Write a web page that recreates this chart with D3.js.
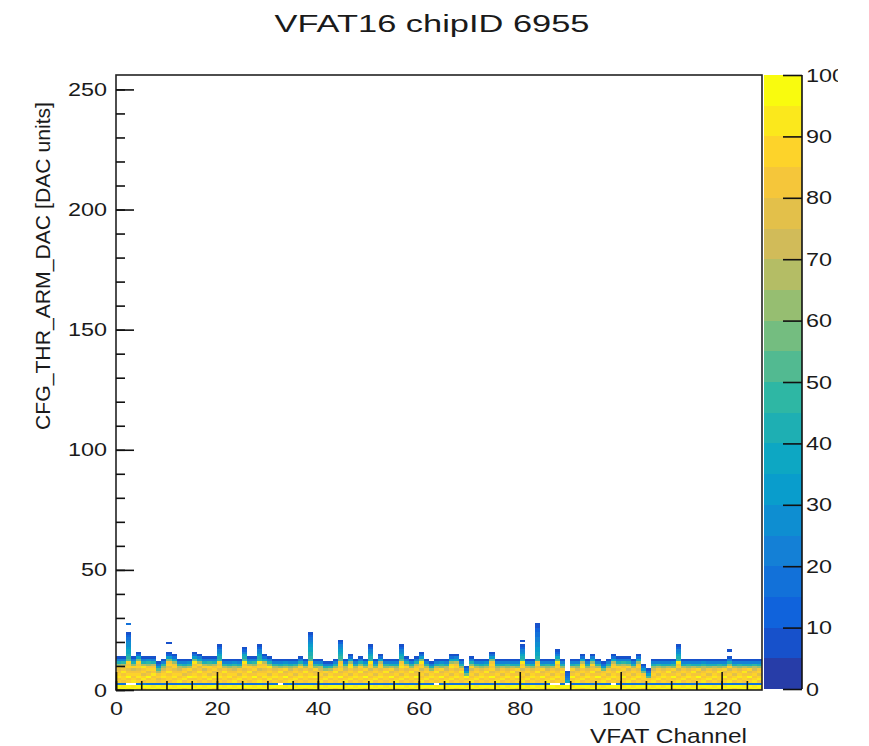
<!DOCTYPE html>
<html>
<head>
<meta charset="utf-8">
<script src="https://cdn.jsdelivr.net/npm/d3@7/dist/d3.min.js"></script>
<style>
  body { margin: 0; background: #fff; }
  text { font-family: "Liberation Sans", Arial, Helvetica, sans-serif; fill: #1a1a1a; }
</style>
</head>
<body>
<div id="chart"></div>
<script>
// histogram binning
var nChannels = 128,
  nDacBins = 256;

// one string per VFAT channel, one char per DAC bin starting at bin 0
// '.' = empty, '0'..'9','a'..'j' = contour level 0..19 (5 counts each)
var channelCells = [
  "ij3hgihgfhc841", "ji3ghhgigfd941", "ij.hgjhgfhgha98776554321...3", "ji.ihghgehc841",
  "ij3hgihgfhghb731", "hj4gihfhgid841", "ij3hgjgfhgc951", "ji3hhgighgd841",
  "ij3gfhgda631", "ji3hgihgec941", "ij3ghhgigfhgb621...1", "ji3hgihgfhgc731",
  "ij3ihghged941", "hj3gihfhgc841", "ij3hgjgfhd951", "ji3hgihgfhgib631",
  "ij3ghhgigfhc741", "ji3hgihgehd841", "ij3gihfhghc941", "hj3hgjgfhgd841",
  "ij3hgihgfhgh9875421", "ji3ghhgigd941", "ij3hgihgfc841", "ji3ihghged951",
  "ij3gihfhgc841", "hj3hgihgfhgia87421", "ij3ghhgighd841", "ji3hgjgfhgc941",
  "ij3ihghgehgi9875421", "ji3hgihgfhgd731", "ij3gihfhgic841", "hj3hgihgfd941",
  "ij.ghhgigc841", "ji3hgjgfhd951", "ij3ihghgec841", "ji3gihfhgd941",
  "ij3hgihgfhc841", "hj3ghhgigd841", "ij3hgihgfhgha98877654321", "ji3hgjgfhc941",
  "ij3ihghged841", "ji3gihfhc841", "ij3hgihgd941", "hj3ghhgigc841",
  "ij3hgjgfhghga98765421", "ji3ihghged941", "ij3gihfhgihc731", "ji3hgihgfd841",
  "ij3ghhgighc841", "hj3hgjgfhd951", "ij3ihghgehgi9875421", "ji3gihfhgc841",
  "ij3hgihgfhgd731", "ji3ghhgigc941", "ij3hgjgfhd841", "hj3ihghgec841",
  "ij3gihfhgihga875421", "ji3hgihgfhd841", "ij3ghhgigc941", "ji3hgjgfhgd841",
  "ij3ihghgehgib631", "hj3gihfhgd941", "ij3hgihgc841", "ji.ghhgigd841",
  "ij3hgjgfhc951", "ji3ihghged841", "ij3gihfhgihc731", "hj3hgihgfhgd741",
  "ij3ghhgigc841", "ji3hgjb631", "ij3ihghgehc841", "ji3gihfhgd941",
  "ij3hgihgfc841", "hj3ghhgigd951", "ij3hgjgfhghgb631", "ji3ihghgec841",
  "ij3gihfhgd841", "ji3hgihgfc941", "ij3ghhgigd841", "hj3hgjgfhc841",
  "ij3ihghgehgi9875421.1", "ji3gihfhgd941", "ij3hgihgfc841", "ji3ghhgigfhg9877665544332211",
  "ij3hgjgfhd841", "hj3ihghgec941", "ij.gihfhgd841", "ji.hgihgfhgia7421",
  "ij3ghhgigc841", "ij.74321", "ji3hgjgfhd841", "ij3ihghgec941",
  "hj3gihfhgihd731", "ij3hgihgfc841", "ji3ghhgigfhc741", "ij3hgjgfhd941",
  "ji3ihghgb631", "ij3gihfhgc841", "hj.hgihgfhgd731", "ij3ghhgighc841",
  "ji3hgjgfhgd941", "ij3ihghgehc841", "ji3gihfhgd841", "ij3hgihgfhgc731",
  "hj3ghhgb631", "ij3hga631", "ji3ihghgec841", "ij3gihfhgd941",
  "ji3hgihgfc841", "ij3ghhgigd841", "hj3hgjgfhc951", "ij3ihghgehgi9875421",
  "ji3gihfhgd841", "ij3hgihgfc941", "ji3ghhgigd841", "ij3hgjgfhc841",
  "hj3ihghged951", "ij3gihfhgc841", "ji3hgihgfd841", "ij3ghhgigc941",
  "ji3hgjgfhd841", "ij3ihghgehc841..1", "hj3gihfhgd841", "ij3hgihgfc941",
  "ji3ghhgigd841", "ij3hgjgfhc841", "ji3ihghged941", "ij3gihfhgc841"
];

// axis ticks
var xMajorTicks = [0, 20, 40, 60, 80, 100, 120];
var yMajorTicks = [0, 50, 100, 150, 200, 250];
var zTicks = [0, 10, 20, 30, 40, 50, 60, 70, 80, 90, 100];
var nContours = 20,
  zMax = 100;

// ROOT kBird palette
var birdStops = [0.0, 0.125, 0.25, 0.375, 0.5, 0.625, 0.75, 0.875, 1.0];
var birdRed = [0.2082, 0.0592, 0.078, 0.0232, 0.1802, 0.5301, 0.8186, 0.9956, 0.9764];
var birdGreen = [0.1664, 0.3599, 0.5041, 0.6419, 0.7178, 0.7492, 0.7328, 0.7862, 0.9832];
var birdBlue = [0.5293, 0.8684, 0.8385, 0.7914, 0.6425, 0.4662, 0.3499, 0.1968, 0.0539];

var width = 869,
  height = 746;

var svg = d3
  .select("#chart")
  .append("svg")
  .attr("width", width)
  .attr("height", height);

var x = d3.scaleLinear().domain([0, nChannels]).range([116, 762]);
var y = d3.scaleLinear().domain([0, nDacBins]).range([690, 75]);
var z = d3.scaleLinear().domain([0, zMax]).range([689, 75]);

function bird(f) {
  var k = 1;
  while (k < birdStops.length - 1 && f > birdStops[k]) k++;
  var t = (f - birdStops[k - 1]) / (birdStops[k] - birdStops[k - 1]);
  function lerp(a) {
    return Math.round(255 * (a[k - 1] + t * (a[k] - a[k - 1])));
  }
  return d3.rgb(lerp(birdRed), lerp(birdGreen), lerp(birdBlue)).toString();
}

// colour of contour band i, the way ROOT picks it from 255 palette entries
function levelColor(i) {
  var idx = Math.floor(((i + 0.99) * 255) / nContours);
  return bird(Math.min(idx, 254) / 254);
}

function levelOf(ch) {
  return parseInt(ch, 20);
}

// flatten the cells
var cells = [];
channelCells.forEach(function(s, c) {
  for (var b = 0; b < s.length; b++) {
    if (s[b] === ".") continue;
    var lev = levelOf(s[b]);
    cells.push({ ch: c, bin: b, value: lev * 5 + 2.5 });
  }
});

var band = d3
  .scaleQuantize()
  .domain([0, zMax])
  .range(d3.range(nContours));

svg
  .append("g")
  .selectAll("rect")
  .data(cells)
  .enter()
  .append("rect")
  .attr("x", function(d) {
    return x(d.ch);
  })
  .attr("y", function(d) {
    return y(d.bin + 1);
  })
  .attr("width", function(d) {
    return x(d.ch + 1) - x(d.ch);
  })
  .attr("height", function(d) {
    return y(d.bin) - y(d.bin + 1);
  })
  .attr("fill", function(d) {
    return levelColor(band(d.value));
  })
  .attr("shape-rendering", "crispEdges");

// frame
svg
  .append("rect")
  .attr("x", x(0))
  .attr("y", y(nDacBins))
  .attr("width", x(nChannels) - x(0))
  .attr("height", y(0) - y(nDacBins))
  .attr("fill", "none")
  .attr("stroke", "#222")
  .attr("stroke-width", 1.6);

function styleAxis(g) {
  g.select(".domain").remove();
  g.selectAll("line").attr("stroke", "#111").attr("stroke-width", 1.6);
  g.selectAll("text")
    .attr("font-size", 19)
    .attr("fill", "#1a1a1a")
    .attr("font-family", '"Liberation Sans", Arial, sans-serif')
    .attr("lengthAdjust", "spacingAndGlyphs")
    .attr("textLength", function() {
      return this.textContent.length * 13;
    });
}

// x axis: minor ticks every 5, major every 20
svg
  .append("g")
  .attr("transform", "translate(0," + y(0) + ")")
  .call(d3.axisBottom(x).tickValues(d3.range(0, nChannels + 1, 5)).tickSize(-9).tickFormat(""))
  .call(styleAxis);
svg
  .append("g")
  .attr("transform", "translate(0," + y(0) + ")")
  .call(d3.axisBottom(x).tickValues(xMajorTicks).tickSize(-18).tickPadding(12))
  .call(styleAxis);

// y axis: minor every 10, major every 50
svg
  .append("g")
  .attr("transform", "translate(" + x(0) + ",0)")
  .call(d3.axisLeft(y).tickValues(d3.range(0, nDacBins, 10)).tickSize(-9).tickFormat(""))
  .call(styleAxis);
svg
  .append("g")
  .attr("transform", "translate(" + x(0) + ",0)")
  .call(d3.axisLeft(y).tickValues(yMajorTicks).tickSize(-18).tickPadding(9))
  .call(styleAxis);

// palette
var pal = svg.append("g");
pal
  .selectAll("rect")
  .data(d3.range(nContours))
  .enter()
  .append("rect")
  .attr("x", 764)
  .attr("width", 38)
  .attr("y", function(i) {
    return z(((i + 1) * zMax) / nContours);
  })
  .attr("height", function(i) {
    return z((i * zMax) / nContours) - z(((i + 1) * zMax) / nContours);
  })
  .attr("fill", levelColor)
  .attr("shape-rendering", "crispEdges");

// the canvas cuts the last digit of "100"; clip is in the axis group's own coordinates
svg
  .append("clipPath")
  .attr("id", "palclip")
  .append("rect")
  .attr("x", -60)
  .attr("y", 0)
  .attr("width", 96)
  .attr("height", height);

var zAxis = svg
  .append("g")
  .attr("clip-path", "url(#palclip)")
  .attr("transform", "translate(802,0)")
  .call(d3.axisRight(z).tickValues(zTicks).tickSize(-19).tickPadding(4))
  .call(styleAxis);
zAxis
  .append("line")
  .attr("y1", z(0))
  .attr("y2", z(zMax))
  .attr("stroke", "#111")
  .attr("stroke-width", 1.6);

// titles
svg
  .append("text")
  .attr("x", 432)
  .attr("y", 32)
  .attr("text-anchor", "middle")
  .attr("font-size", 23)
  .attr("textLength", 315)
  .attr("lengthAdjust", "spacingAndGlyphs")
  .text("VFAT16 chipID 6955");

svg
  .append("text")
  .attr("x", 747)
  .attr("y", 743)
  .attr("text-anchor", "end")
  .attr("font-size", 21)
  .attr("textLength", 157)
  .attr("lengthAdjust", "spacingAndGlyphs")
  .text("VFAT Channel");

svg
  .append("text")
  .attr("transform", "translate(50,266) rotate(-90)")
  .attr("text-anchor", "middle")
  .attr("font-size", 21)
  .attr("textLength", 328)
  .attr("lengthAdjust", "spacingAndGlyphs")
  .text("CFG_THR_ARM_DAC [DAC units]");
</script>
</body>
</html>
